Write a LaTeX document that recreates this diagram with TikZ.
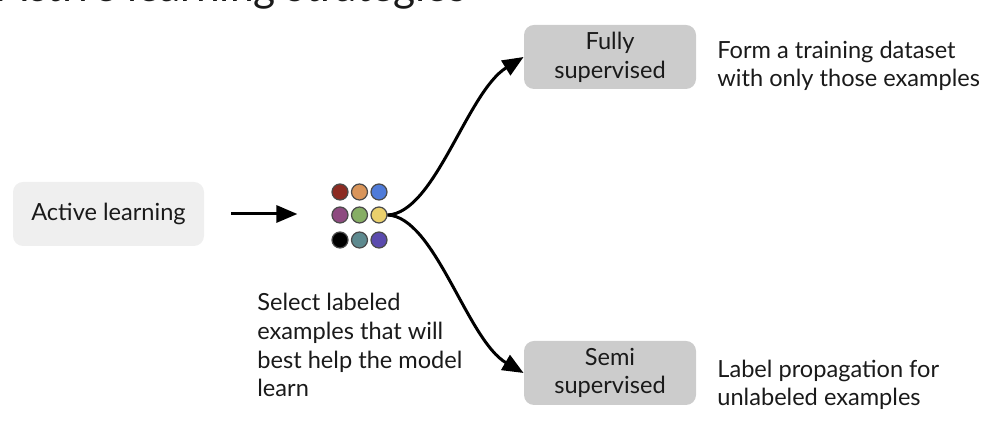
\documentclass[tikz,border=0pt]{standalone}
\usepackage{fontspec}
\setmainfont{Lato}
\usetikzlibrary{arrows.meta}
\newcommand\mytxt{\fontsize{11.8}{14.4}\selectfont}
\definecolor{txtc}{HTML}{1A1A1A}
\definecolor{boxlight}{HTML}{EFEFEF}
\definecolor{boxgray}{HTML}{CCCCCC}
\definecolor{dotline}{HTML}{4A4A4A}
\definecolor{c11}{HTML}{8C2B22}
\definecolor{c12}{HTML}{D9955A}
\definecolor{c13}{HTML}{4F7BD9}
\definecolor{c21}{HTML}{8E4A80}
\definecolor{c22}{HTML}{86AE64}
\definecolor{c23}{HTML}{EAD06C}
\definecolor{c31}{HTML}{000000}
\definecolor{c32}{HTML}{5E8A8F}
\definecolor{c33}{HTML}{5B4BAE}
\begin{document}
\begin{tikzpicture}[x=0.5pt,y=-0.5pt,
  box/.style={rounded corners=5pt, inner sep=0pt, minimum height=32pt, align=center, font=\mytxt, text=txtc},
  label/.style={inner sep=0pt, align=left, font=\mytxt, text=txtc, anchor=base west},
  dot/.style={circle, draw=dotline, line width=0.6pt, minimum size=8pt, inner sep=0pt},
  arrow/.style={line width=1.5pt, -{Triangle[length=10.5pt,width=8.5pt]}}]
\useasboundingbox (0,0) rectangle (992,431);
% title (cut at the top)
\node[anchor=base west, inner sep=0pt, font=\fontsize{21.2}{25}\selectfont, text=txtc] (title) at (-2,2) {Active learning strategies};
% boxes
\node[box, fill=boxlight, minimum width=95.5pt] (al) at (108.5,214) {Active learning};
\node[box, fill=boxgray, minimum width=86pt] (full) at (610,57) {Fully\\supervised};
\node[box, fill=boxgray, minimum width=86pt] (semi) at (610,373) {Semi\\supervised};
% dots
\node[dot, fill=c11] (d11) at (340,192) {};
\node[dot, fill=c12] (d12) at (359.5,192) {};
\node[dot, fill=c13] (d13) at (379,192) {};
\node[dot, fill=c21] (d21) at (340,215) {};
\node[dot, fill=c22] (d22) at (359.5,215) {};
\node[dot, fill=c23] (d23) at (379,215) {};
\node[dot, fill=c31] (d31) at (340,240) {};
\node[dot, fill=c32] (d32) at (359.5,240) {};
\node[dot, fill=c33] (d33) at (379,240) {};
% texts (base = last line)
\node[label] (sel) at (257,397) {Select labeled\\examples that will\\best help the model\\learn};
\node[label] (form) at (717,87) {Form a training dataset\\with only those examples};
\node[label] (prop) at (717,406) {Label propagation for\\unlabeled examples};
% connectors
\coordinate (astart) at ([xshift=13.5pt]al.east);
\coordinate (aend) at ([xshift=-17pt]d21.west |- al.east);
\draw[arrow] (astart) -- (aend);
\draw[arrow] (d23.east) .. controls (435,213) and (467,92) .. (full.west);
\draw[arrow] (d23.east) .. controls (435,217) and (467,340) .. (semi.west);
\end{tikzpicture}
\end{document}
